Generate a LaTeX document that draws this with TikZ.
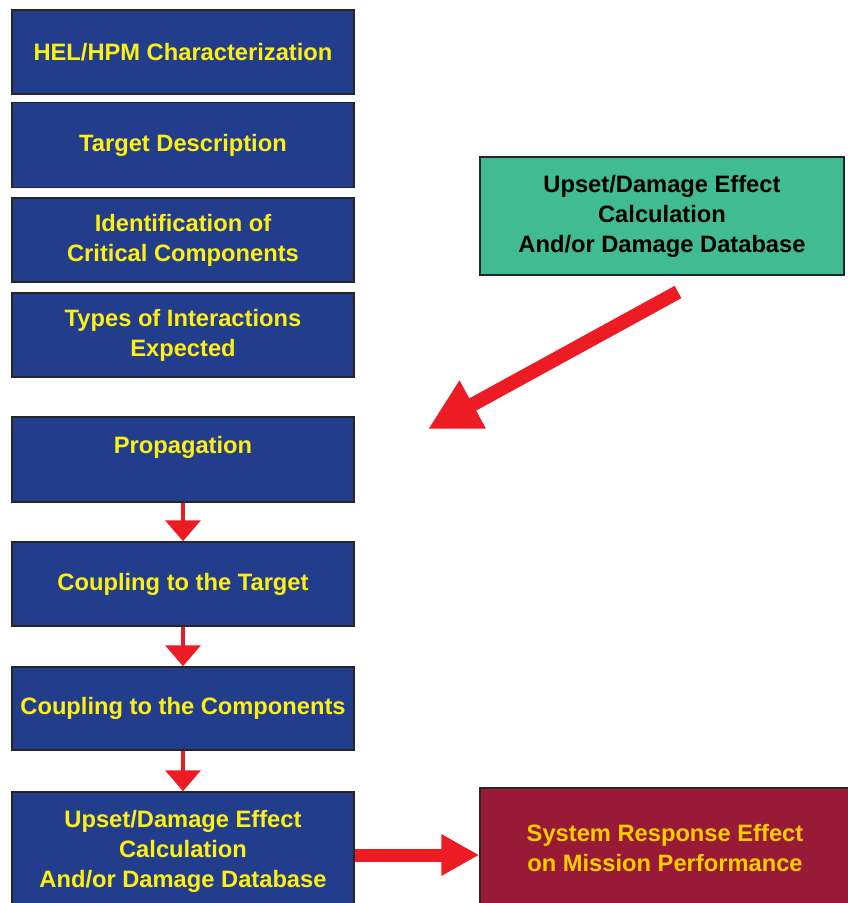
\documentclass[tikz,border=0pt]{standalone}
\usepackage{fontspec}
\setmainfont{Liberation Sans}
\usetikzlibrary{arrows.meta}
\definecolor{boxblue}{RGB}{35,61,141}
\definecolor{boxgreen}{RGB}{64,187,146}
\definecolor{boxred}{RGB}{152,26,54}
\definecolor{arrred}{RGB}{237,28,36}
\definecolor{txtyellow}{RGB}{255,240,20}
\definecolor{txtorange}{RGB}{255,205,0}
\begin{document}
\begin{tikzpicture}[x=1pt,y=-1pt,
  box/.style={draw=black!85, line width=1.5pt, minimum width=342pt, minimum height=84pt,
    inner sep=0pt, align=center, font=\fontsize{23.7}{30}\selectfont\bfseries,
    text=txtyellow, fill=boxblue},
  greenbox/.style={box, fill=boxgreen, text=black, minimum width=364pt, minimum height=118pt},
  redbox/.style={box, fill=boxred, text=txtorange, minimum width=370pt, minimum height=120pt},
  thinarrow/.style={draw=arrred, line width=4pt, -{Triangle[width=35pt,length=21pt]}},
  fatarrow/.style={draw=arrred, line width=13pt, -{Triangle[width=39pt,length=38pt]}},
  diagarrow/.style={draw=arrred, line width=14pt, -{Triangle[width=51pt,length=51pt]}}]
\useasboundingbox (0,0) rectangle (848,903);
\clip (0,0) rectangle (848,903);
\fill[white] (0,0) rectangle (848,903);
\node[box] (b1) at (183,52) {HEL/HPM Characterization};
\node[box, minimum height=85pt] (b2) at (183,145) {Target Description};
\node[box] (b3) at (183,240) {Identification of\\Critical Components};
\node[box] (b4) at (183,335) {Types of Interactions\\Expected};
\node[box, minimum height=85pt] (b5) at (183,459.5) {Propagation\\\mbox{}};
\node[box] (b6) at (183,584) {Coupling to the Target};
\node[box, minimum height=83pt] (b7) at (183,708.5) {Coupling to the Components};
\node[box, minimum height=118pt] (b8) at (183,851) {Upset/Damage Effect\\Calculation\\And/or Damage Database};
\node[greenbox] (g) at (662,216) {Upset/Damage Effect\\Calculation\\And/or Damage Database};
\node[redbox] (r) at (665,848) {System Response Effect\\on Mission Performance};
\draw[thinarrow] (b5.south) -- (b6.north);
\draw[thinarrow] (b6.south) -- (b7.north);
\draw[thinarrow] (b7.south) -- (b8.north);
\coordinate (h) at (0,855);
\draw[fatarrow] (b8.east |- h) -- (r.west |- h);
\coordinate (dtail) at (678,292);
\coordinate (dtip) at (428,429);
\draw[diagarrow] (dtail) -- (dtip);
\end{tikzpicture}
\end{document}
